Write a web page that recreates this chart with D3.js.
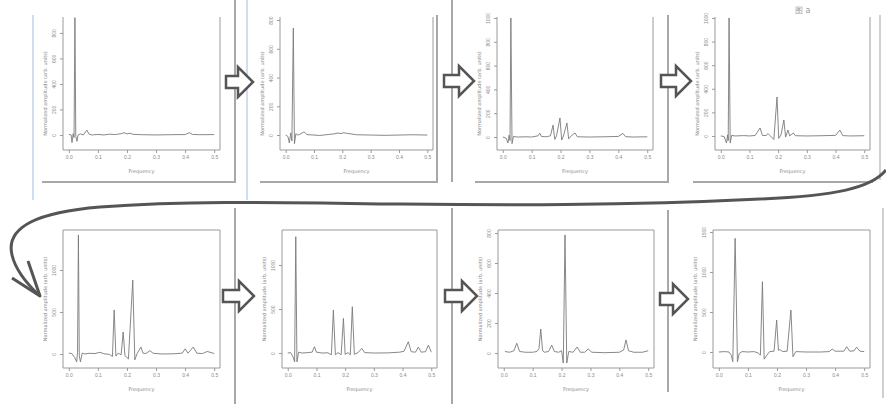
<!DOCTYPE html>
<html><head><meta charset="utf-8">
<script src="https://cdn.jsdelivr.net/npm/d3@7"></script>
<style>
html,body{margin:0;padding:0;background:#fff;}
svg{display:block;font-family:"DejaVu Sans",Arial,sans-serif;}
</style></head>
<body>
<svg id="c" width="886" height="404"></svg>
<script>
// ---- data ----
const xTicks = [0.0, 0.1, 0.2, 0.3, 0.4, 0.5];
const xTickLabels = ["0.0", "0.1", "0.2", "0.3", "0.4", "0.5"];
const xDomain = [-0.02, 0.52];
const xLabel = "Frequency";
const yLabel = "Normalized amplitude (arb. units)";
const figLabel = "图 a";

const spec1 = [[0,5],[0.008,0],[0.011,-60],[0.015,10],[0.018,-20],[0.021,920],[0.024,-10],[0.028,-50],[0.032,0],[0.04,8],[0.05,0],[0.062,38],[0.07,5],[0.08,0],[0.1,4],[0.12,0],[0.14,6],[0.16,3],[0.18,10],[0.19,18],[0.2,8],[0.21,14],[0.22,5],[0.25,2],[0.3,0],[0.35,2],[0.4,3],[0.415,18],[0.425,4],[0.45,2],[0.5,3]];
const spec2 = [[0,0],[0.008,-10],[0.013,-55],[0.018,15],[0.022,-40],[0.027,744],[0.031,-60],[0.036,10],[0.042,0],[0.05,5],[0.065,22],[0.075,3],[0.1,0],[0.12,-3],[0.15,4],[0.17,8],[0.185,14],[0.195,10],[0.205,16],[0.215,12],[0.23,8],[0.25,2],[0.3,0],[0.35,-2],[0.4,0],[0.45,2],[0.5,0]];
const spec3 = [[0,0],[0.012,-10],[0.018,-50],[0.022,15],[0.025,-30],[0.028,1000],[0.032,-55],[0.037,5],[0.05,0],[0.08,2],[0.1,0],[0.122,10],[0.128,32],[0.134,5],[0.15,2],[0.165,10],[0.174,100],[0.18,-20],[0.186,10],[0.198,160],[0.204,-25],[0.21,8],[0.222,118],[0.228,-15],[0.235,5],[0.25,34],[0.258,2],[0.3,0],[0.35,2],[0.4,5],[0.416,30],[0.425,3],[0.45,0],[0.5,2]];
const spec4 = [[0,0],[0.012,-5],[0.02,-60],[0.024,10],[0.026,-40],[0.029,1000],[0.033,-60],[0.038,5],[0.05,0],[0.08,3],[0.1,0],[0.12,4],[0.137,68],[0.145,5],[0.158,3],[0.165,20],[0.172,2],[0.185,-30],[0.196,330],[0.202,-20],[0.21,10],[0.22,135],[0.226,-10],[0.234,50],[0.24,0],[0.253,25],[0.26,2],[0.3,0],[0.35,2],[0.4,5],[0.415,50],[0.425,3],[0.45,0],[0.5,2]];
const spec5 = [[0,10],[0.01,5],[0.02,-40],[0.027,-95],[0.03,20],[0.033,1417],[0.036,-20],[0.04,-95],[0.046,10],[0.055,0],[0.07,8],[0.09,5],[0.107,20],[0.12,3],[0.14,-5],[0.15,-30],[0.156,524],[0.162,-25],[0.17,10],[0.18,-10],[0.187,262],[0.193,-20],[0.205,-60],[0.22,880],[0.227,-70],[0.235,5],[0.248,83],[0.255,10],[0.265,5],[0.279,40],[0.29,8],[0.32,0],[0.36,2],[0.39,10],[0.4,60],[0.41,10],[0.428,83],[0.44,10],[0.46,5],[0.476,30],[0.5,5]];
const spec6 = [[0,0],[0.01,5],[0.018,-40],[0.024,-100],[0.028,1322],[0.032,-100],[0.038,10],[0.05,0],[0.07,5],[0.085,10],[0.093,72],[0.1,10],[0.12,0],[0.14,3],[0.152,-20],[0.159,489],[0.166,-20],[0.175,5],[0.186,-20],[0.194,394],[0.2,-15],[0.21,5],[0.218,-20],[0.225,526],[0.232,-15],[0.245,5],[0.258,53],[0.268,5],[0.3,0],[0.35,2],[0.39,10],[0.405,20],[0.42,128],[0.43,15],[0.445,10],[0.455,68],[0.465,10],[0.48,15],[0.49,90],[0.5,10]];
const spec7 = [[0.004,10],[0.02,5],[0.035,15],[0.045,65],[0.055,10],[0.075,5],[0.1,5],[0.115,10],[0.122,30],[0.128,160],[0.134,20],[0.14,5],[0.155,10],[0.166,53],[0.175,10],[0.19,5],[0.2,15],[0.206,-67],[0.212,787],[0.218,-67],[0.225,10],[0.24,5],[0.254,40],[0.265,5],[0.28,5],[0.292,27],[0.305,5],[0.35,2],[0.4,5],[0.415,20],[0.423,87],[0.432,15],[0.45,5],[0.48,5],[0.5,15]];
const spec8 = [[0,0],[0.02,5],[0.035,0],[0.043,-40],[0.048,-121],[0.053,800],[0.056,1421],[0.059,900],[0.064,-121],[0.07,-20],[0.08,5],[0.1,0],[0.12,5],[0.135,-10],[0.143,-40],[0.15,879],[0.156,-90],[0.165,-40],[0.175,5],[0.19,10],[0.199,400],[0.205,20],[0.21,30],[0.22,5],[0.235,10],[0.248,525],[0.255,-60],[0.265,5],[0.3,0],[0.35,0],[0.38,5],[0.39,37],[0.4,10],[0.43,10],[0.44,66],[0.45,10],[0.465,15],[0.474,60],[0.485,10],[0.5,5]];

const yTicks1 = [0,200,400,600,800];
const yTicks2 = [0,200,400,600,800];
const yTicks3 = [0,200,400,600,800,1000];
const yTicks4 = [0,200,400,600,800,1000];
const yTicks5 = [0,500,1000];
const yTicks6 = [0,500,1000];
const yTicks7 = [0,200,400,600,800];
const yTicks8 = [0,500,1000,1500];

const yDomain1 = [-118, 925];
const yDomain2 = [-104, 821];
const yDomain3 = [-109, 1008];
const yDomain4 = [-119, 1008];
const yDomain5 = [-167, 1476];
const yDomain6 = [-170, 1398];
const yDomain7 = [-100, 820];
const yDomain8 = [-200, 1525];

// ---- layout ----
const svg = d3.select("#c");
const topBox = {t:17, b:150};
const botBox = {t:230, b:368};
const panels = [
  {spec:spec1, ticks:yTicks1, dom:yDomain1, L:63,  R:220, box:topBox, topEdge:false},
  {spec:spec2, ticks:yTicks2, dom:yDomain2, L:280, R:433, box:topBox, topEdge:false},
  {spec:spec3, ticks:yTicks3, dom:yDomain3, L:497, R:653, box:topBox, topEdge:false},
  {spec:spec4, ticks:yTicks4, dom:yDomain4, L:715, R:870, box:topBox, topEdge:false},
  {spec:spec5, ticks:yTicks5, dom:yDomain5, L:63,  R:220, box:botBox, topEdge:true},
  {spec:spec6, ticks:yTicks6, dom:yDomain6, L:282, R:437, box:botBox, topEdge:true},
  {spec:spec7, ticks:yTicks7, dom:yDomain7, L:498, R:654, box:botBox, topEdge:true},
  {spec:spec8, ticks:yTicks8, dom:yDomain8, L:713, R:870, box:botBox, topEdge:true}
];

// frame decorations
const frameGrey = "#a8a8a8", frameBlue = "#cfdff0";
const frames = [
  [33,15,33,200,frameBlue],[42,182,235,182,frameGrey],[235,0,235,183,frameGrey],[247,0,247,200,frameBlue],
  [260,182,437,182,frameGrey],[437,15,437,183,frameGrey],[452,0,452,182,frameGrey],
  [475,182,668,182,frameGrey],[668,15,668,183,frameGrey],[693,182,873,182,frameGrey],[880,15,880,180,"#d0d0d0"],
  [235,208,235,404,frameGrey],[452,208,452,404,frameGrey],[668,210,668,392,frameGrey],[883,208,883,398,"#d0d0d0"]
];
svg.selectAll("line.frame").data(frames).enter().append("line")
  .attr("x1",d=>d[0]).attr("y1",d=>d[1]).attr("x2",d=>d[2]).attr("y2",d=>d[3])
  .attr("stroke",d=>d[4]).attr("stroke-width",2);

panels.forEach((p,i)=>{
  const g = svg.append("g");
  const x = d3.scaleLinear().domain(xDomain).range([p.L, p.R]);
  const y = d3.scaleLinear().domain(p.dom).range([p.box.b, p.box.t]);
  const bp = p.topEdge
    ? `M${p.L},${p.box.t}H${p.R}V${p.box.b}H${p.L}Z`
    : `M${p.L},${p.box.t}V${p.box.b}H${p.R}V${p.box.t}`;
  g.append("path").attr("d",bp).attr("fill","none").attr("stroke","#9a9a9a").attr("stroke-width",1);
  const xa = g.append("g").attr("transform",`translate(0,${p.box.b})`)
    .call(d3.axisBottom(x).tickValues(xTicks).tickFormat((d,j)=>xTickLabels[j]).tickSize(3).tickPadding(2));
  xa.select(".domain").remove();
  xa.selectAll("line").attr("stroke","#9a9a9a");
  xa.selectAll("text").attr("fill","#8a8a8a").style("font-size","5px");
  const ya = g.append("g").attr("transform",`translate(${p.L},0)`)
    .call(d3.axisLeft(y).tickValues(p.ticks).tickFormat(d=>String(d)).tickSize(3).tickPadding(2));
  ya.select(".domain").remove();
  ya.selectAll("line").attr("stroke","#9a9a9a");
  ya.selectAll("text").attr("fill","#8a8a8a").style("font-size","5px")
    .attr("text-anchor","middle").attr("x",0).attr("dy",0)
    .attr("transform","translate(-7,0) rotate(-90)");
  g.append("text").attr("x",(p.L+p.R)/2).attr("y",p.box.b+23).attr("text-anchor","middle")
    .attr("fill","#8a8a8a").style("font-size","5px").text(xLabel);
  g.append("text").attr("transform",`translate(${p.L-16},${(p.box.t+p.box.b)/2+ (p.topEdge?0:10)}) rotate(-90)`)
    .attr("text-anchor","middle").attr("fill","#8a8a8a").style("font-size","5px").text(yLabel);
  const line = d3.line().x(d=>x(d[0])).y(d=>y(d[1]));
  g.append("path").datum(p.spec).attr("d",line).attr("fill","none")
    .attr("stroke","#7a7a7a").attr("stroke-width",0.9);
});

// block arrows
const arrows = [[226,253,82],[444,474,81],[661,691,81],[223,254,296],[445,477,296],[660,688,299]];
svg.selectAll("path.arr").data(arrows).enter().append("path")
  .attr("d",d=>{const [x0,x1,cy]=d; const xh=x1-15;
    return `M${x0},${cy-6}L${xh},${cy-6}L${xh},${cy-15}L${x1},${cy}L${xh},${cy+15}L${xh},${cy+6}L${x0},${cy+6}Z`;})
  .attr("fill","#fff").attr("stroke","#555").attr("stroke-width",2.5).attr("stroke-linejoin","miter");

// curved connector
svg.append("path")
  .attr("d","M886,170 C872,188 835,196 760,199 C620,206 500,205 400,204 C300,203 200,200 100,207 C40,212 5,226 12,255 C16,272 28,285 40,296")
  .attr("fill","none").attr("stroke","#555").attr("stroke-width",3);
svg.append("path").attr("d","M12,278 L40,296 L28,261")
  .attr("fill","none").attr("stroke","#555").attr("stroke-width",3).attr("stroke-linejoin","round");

svg.append("text").attr("x",795).attr("y",13).attr("fill","#9a9a9a").style("font-size","8px").text(figLabel);
</script>
</body></html>
